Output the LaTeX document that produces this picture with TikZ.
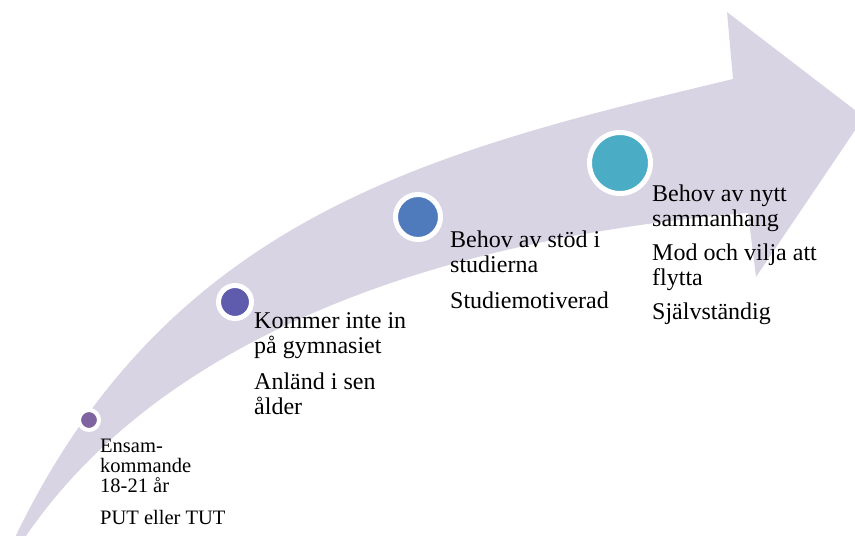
\documentclass[tikz,border=0pt]{standalone}
\usepackage{fontspec}
\setmainfont{Liberation Serif}
\definecolor{bandcol}{HTML}{D8D4E4}
\definecolor{dotA}{HTML}{8064A2}
\definecolor{dotB}{HTML}{5F5BAD}
\definecolor{dotC}{HTML}{4F7BBD}
\definecolor{dotD}{HTML}{4BACC6}
\begin{document}
\begin{tikzpicture}[x=1pt,y=-1pt,
  dot/.style={circle,draw=white,inner sep=0pt},
  lbl/.style={anchor=base west,inner sep=0pt,text=black},
  big/.style={font=\fontsize{24}{25}\selectfont},
  small/.style={font=\fontsize{20.5}{20}\selectfont}]
\useasboundingbox (0,0) rectangle (855,536);
\fill[bandcol] (10,548) .. controls (165,215) and (433,151) .. (733,79)
  -- (727,12) -- (864,117) -- (756,277) -- (748,213)
  .. controls (420,240) and (148,346) .. (18,548) -- cycle;
\node[dot,fill=dotA,line width=4pt,minimum size=20pt] (c1) at (89,420) {};
\node[dot,fill=dotB,line width=5pt,minimum size=33pt] (c2) at (235,302) {};
\node[dot,fill=dotC,line width=5pt,minimum size=45pt] (c3) at (418,217) {};
\node[dot,fill=dotD,line width=5pt,minimum size=61pt] (c4) at (620,163) {};
\node[lbl,small] (t1) at (100,452) {\vtop{\hbox{Ensam-}\hbox{kommande}\hbox{18-21 år}\vskip12pt\hbox{PUT eller TUT}}};
\node[lbl,big] (t2) at (254,328) {\vtop{\hbox{Kommer inte in}\hbox{på gymnasiet}\vskip11pt\hbox{Anländ i sen}\hbox{ålder}}};
\node[lbl,big] (t3) at (450,247) {\vtop{\hbox{Behov av stöd i}\hbox{studierna}\vskip11pt\hbox{Studiemotiverad}}};
\node[lbl,big] (t4) at (652,201) {\vtop{\hbox{Behov av nytt}\hbox{sammanhang}\vskip9pt\hbox{Mod och vilja att}\hbox{flytta}\vskip9pt\hbox{Självständig}}};
\end{tikzpicture}
\end{document}
